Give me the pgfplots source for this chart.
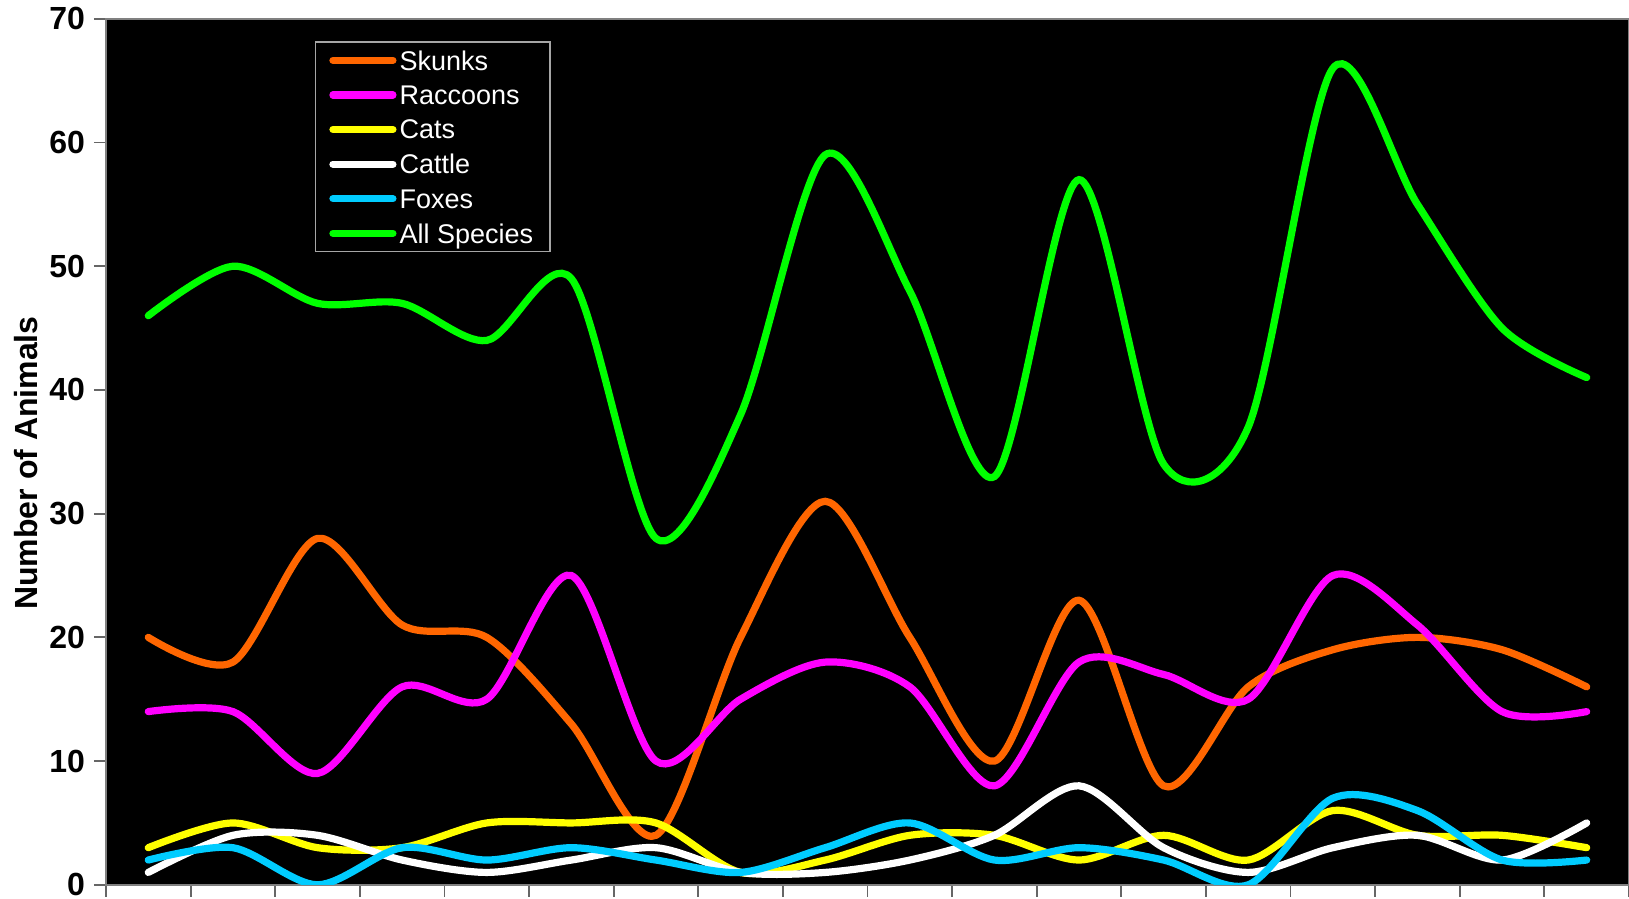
\documentclass[border=0pt]{standalone}
\usepackage{fontspec}
\setmainfont{Liberation Sans}
\usepackage{pgfplots}
\pgfplotsset{compat=1.18}

\definecolor{cskunk}{HTML}{FF6600}
\definecolor{craccoon}{HTML}{FF00FF}
\definecolor{ccat}{HTML}{FFFF00}
\definecolor{cfox}{HTML}{00CCFF}
\definecolor{call}{HTML}{00FF00}
\definecolor{caxis}{HTML}{808080}

\begin{document}
\begin{tikzpicture}
\begin{axis}[
    at={(0,0)}, anchor=south west,
    scale only axis,
    width=761.5pt, height=433pt,
    xmin=-0.5, xmax=17.5,
    ymin=0, ymax=70,
    xtick={-0.5,0.5,...,17.5},
    xticklabels={},
    ytick={0,10,...,70},
    tick pos=left,
    tick align=outside,
    major tick length=6pt,
    axis background/.style={fill=black},
    axis line style={caxis, line width=1pt},
    tick style={black!60, line width=0.9pt},
    /pgf/number format/assume math mode=true,
    yticklabel style={font=\fontsize{16}{16}\selectfont\bfseries, xshift=-1pt},
    ylabel={Number of Animals},
    every axis y label/.style={at={(axis description cs:0,0.487)}, xshift=-40pt,
        rotate=90, anchor=center, font=\fontsize{16}{16}\selectfont\bfseries},
    legend style={at={(axis description cs:0.137,0.974)}, anchor=north west,
        fill=black, draw=black!35, line width=0.7pt, text=white,
        font=\fontsize{13.5}{13.5}\selectfont,
        inner xsep=7pt, inner ysep=0.5pt,
        nodes={inner sep=1.5pt, minimum height=17.3pt, text depth=0pt}},
    legend cell align=left,
    legend image code/.code={\draw[#1, line cap=round] (0pt,0pt) -- (30pt,0pt);},
    every axis plot/.append style={line width=3.6pt, smooth, tension=0.5, line cap=round},
]
\addplot[cskunk] coordinates {
    (0,20) (1,18) (2,28) (3,21) (4,20) (5,13) (6,4) (7,20) (8,31)
    (9,20) (10,10) (11,23) (12,8) (13,16) (14,19) (15,20) (16,19) (17,16)
};
\addplot[craccoon] coordinates {
    (0,14) (1,14) (2,9) (3,16) (4,15) (5,25) (6,10) (7,15) (8,18)
    (9,16) (10,8) (11,18) (12,17) (13,15) (14,25) (15,21) (16,14) (17,14)
};
\addplot[ccat] coordinates {
    (0,3) (1,5) (2,3) (3,3) (4,5) (5,5) (6,5) (7,1) (8,2)
    (9,4) (10,4) (11,2) (12,4) (13,2) (14,6) (15,4) (16,4) (17,3)
};
\addplot[white] coordinates {
    (0,1) (1,4) (2,4) (3,2) (4,1) (5,2) (6,3) (7,1) (8,1)
    (9,2) (10,4) (11,8) (12,3) (13,1) (14,3) (15,4) (16,2) (17,5)
};
\addplot[cfox] coordinates {
    (0,2) (1,3) (2,0) (3,3) (4,2) (5,3) (6,2) (7,1) (8,3)
    (9,5) (10,2) (11,3) (12,2) (13,0) (14,7) (15,6) (16,2) (17,2)
};
\addplot[call] coordinates {
    (0,46) (1,50) (2,47) (3,47) (4,44) (5,49) (6,28) (7,38) (8,59)
    (9,48) (10,33) (11,57) (12,34) (13,37) (14,66) (15,55) (16,45) (17,41)
};
\legend{Skunks, Raccoons, Cats, Cattle, Foxes, All Species}
\end{axis}
\pgfresetboundingbox
\path[use as bounding box] (-53pt,-7pt) rectangle (761.5pt,442.4pt);
\end{tikzpicture}
\end{document}
